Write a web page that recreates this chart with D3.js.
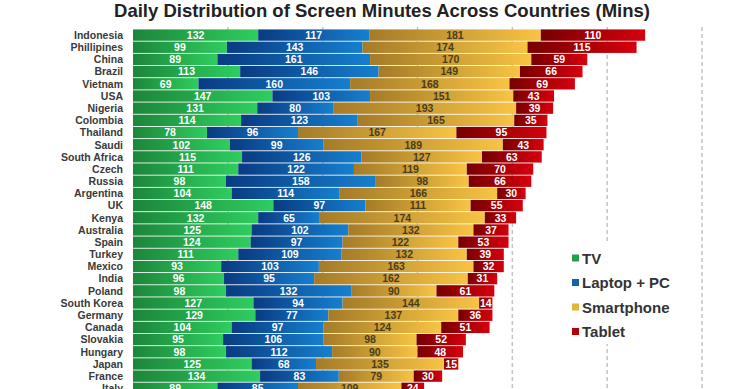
<!DOCTYPE html>
<html>
<head>
<meta charset="utf-8">
<script src="https://cdn.jsdelivr.net/npm/d3@7"></script>
<style>
  body { margin: 0; background: #fff; overflow: hidden; }
  text { font-family: "Liberation Sans", Arial, sans-serif; }
</style>
</head>
<body>
<div id="chart"></div>
<script>
var countries = ["Indonesia", "Phillipines", "China", "Brazil", "Vietnam", "USA", "Nigeria", "Colombia", "Thailand", "Saudi",
  "South Africa", "Czech", "Russia", "Argentina", "UK", "Kenya", "Australia", "Spain", "Turkey", "Mexico",
  "India", "Poland", "South Korea", "Germany", "Canada", "Slovakia", "Hungary", "Japan", "France", "Italy"];
var tv = [132, 99, 89, 113, 69, 147, 131, 114, 78, 102, 115, 111, 98, 104, 148, 132, 125, 124, 111, 93, 96, 98, 127, 129, 104, 95, 98, 125, 134, 89];
var laptop = [117, 143, 161, 146, 160, 103, 80, 123, 96, 99, 126, 122, 158, 114, 97, 65, 102, 97, 109, 103, 95, 132, 94, 77, 97, 106, 112, 68, 83, 85];
var smartphone = [181, 174, 170, 149, 168, 151, 193, 165, 167, 189, 127, 119, 98, 166, 111, 174, 132, 122, 132, 163, 162, 90, 144, 137, 124, 98, 90, 135, 79, 109];
var tablet = [110, 115, 59, 66, 69, 43, 39, 35, 95, 43, 63, 70, 66, 30, 55, 33, 37, 53, 39, 32, 31, 61, 14, 36, 51, 52, 48, 15, 30, 24];
var seriesNames = ["TV", "Laptop + PC", "Smartphone", "Tablet"];
var gridTicks = [100, 200, 300, 400, 500, 600, 700];

var width = 740, height = 389;

var rows = countries.map(function(c, i) {
  return { country: c, TV: tv[i], "Laptop + PC": laptop[i], Smartphone: smartphone[i], Tablet: tablet[i] };
});

var stack = d3.stack().keys(seriesNames);
var layers = stack(rows);

var x = d3.scaleLinear().domain([0, 600]).range([133, 702]);
var y = d3.scaleBand().domain(countries).range([29, 29 + 12.18 * countries.length]).paddingInner(0.07).paddingOuter(0.035);

var grads = {
  "TV": ["#1c863a", "#2fcd5f"],
  "Laptop + PC": ["#093b82", "#167fce"],
  "Smartphone": ["#a47b28", "#f8c444"],
  "Tablet": ["#760000", "#d6000e"]
};
var legendColor = { "TV": "#23a048", "Laptop + PC": "#1560ac", "Smartphone": "#e2b43c", "Tablet": "#b10008" };
var labelColor = { "TV": "#fff", "Laptop + PC": "#fff", "Smartphone": "#4a3d1e", "Tablet": "#fff" };

var svg = d3.select("#chart").append("svg").attr("width", width).attr("height", height);

var defs = svg.append("defs");
seriesNames.forEach(function(k, i) {
  var g = defs.append("linearGradient").attr("id", "grad" + i).attr("x1", 0).attr("x2", 1).attr("y1", 0).attr("y2", 0);
  g.append("stop").attr("offset", "0%").attr("stop-color", grads[k][0]);
  g.append("stop").attr("offset", "100%").attr("stop-color", grads[k][1]);
});

// title
svg.append("text").attr("x", 382).attr("y", 17)
  .attr("text-anchor", "middle")
  .style("font-size", "18.5px").style("font-weight", "bold").style("fill", "#222")
  .text("Daily Distribution of Screen Minutes Across Countries (Mins)");

// dashed gridlines
svg.append("g").selectAll("line").data(gridTicks).enter().append("line")
  .attr("x1", function(d) { return x(d); }).attr("x2", function(d) { return x(d); })
  .attr("y1", 27).attr("y2", height)
  .attr("stroke", "#c4c4c4").attr("stroke-width", 1.5).attr("stroke-dasharray", "4,3");

// bars
var layer = svg.append("g").selectAll("g").data(layers).enter().append("g")
  .attr("fill", function(d, i) { return "url(#grad" + i + ")"; });

layer.selectAll("rect").data(function(d) { return d; }).enter().append("rect")
  .attr("x", function(d) { return x(d[0]); })
  .attr("y", function(d) { return y(d.data.country); })
  .attr("width", function(d) { return x(d[1]) - x(d[0]); })
  .attr("height", y.bandwidth());

// value labels
var lab = svg.append("g").selectAll("g").data(layers).enter().append("g");
lab.selectAll("text").data(function(d) { return d.map(function(p) { p.key = d.key; return p; }); }).enter().append("text")
  .attr("x", function(d) { return (x(d[0]) + x(d[1])) / 2; })
  .attr("y", function(d) { return y(d.data.country) + y.bandwidth() / 2 + 3.8; })
  .attr("text-anchor", "middle")
  .style("font-size", "10.5px").style("font-weight", "bold")
  .style("fill", function(d) { return labelColor[d.key]; })
  .text(function(d) { return d[1] - d[0]; });

// country labels
svg.append("g").selectAll("text").data(countries).enter().append("text")
  .attr("x", 123)
  .attr("y", function(d) { return y(d) + y.bandwidth() / 2 + 3.8; })
  .attr("text-anchor", "end")
  .style("font-size", "10.5px").style("font-weight", "bold").style("fill", "#3a3a3a")
  .text(function(d) { return d; });

// legend
var legend = svg.append("g").attr("transform", "translate(566,244)");
legend.append("rect").attr("x", 0).attr("y", 0).attr("width", 124).attr("height", 100).attr("fill", "#fff");
var li = legend.selectAll(".li").data(seriesNames).enter().append("g")
  .attr("transform", function(d, i) { return "translate(6," + (14 + i * 24.5) + ")"; });
li.append("rect").attr("x", 0).attr("y", -3.5).attr("width", 7).attr("height", 7)
  .attr("fill", function(d) { return legendColor[d]; });
li.append("text").attr("x", 10).attr("y", 5.5)
  .style("font-size", "15px").style("font-weight", "bold").style("fill", "#333")
  .text(function(d) { return d; });
</script>
</body>
</html>
